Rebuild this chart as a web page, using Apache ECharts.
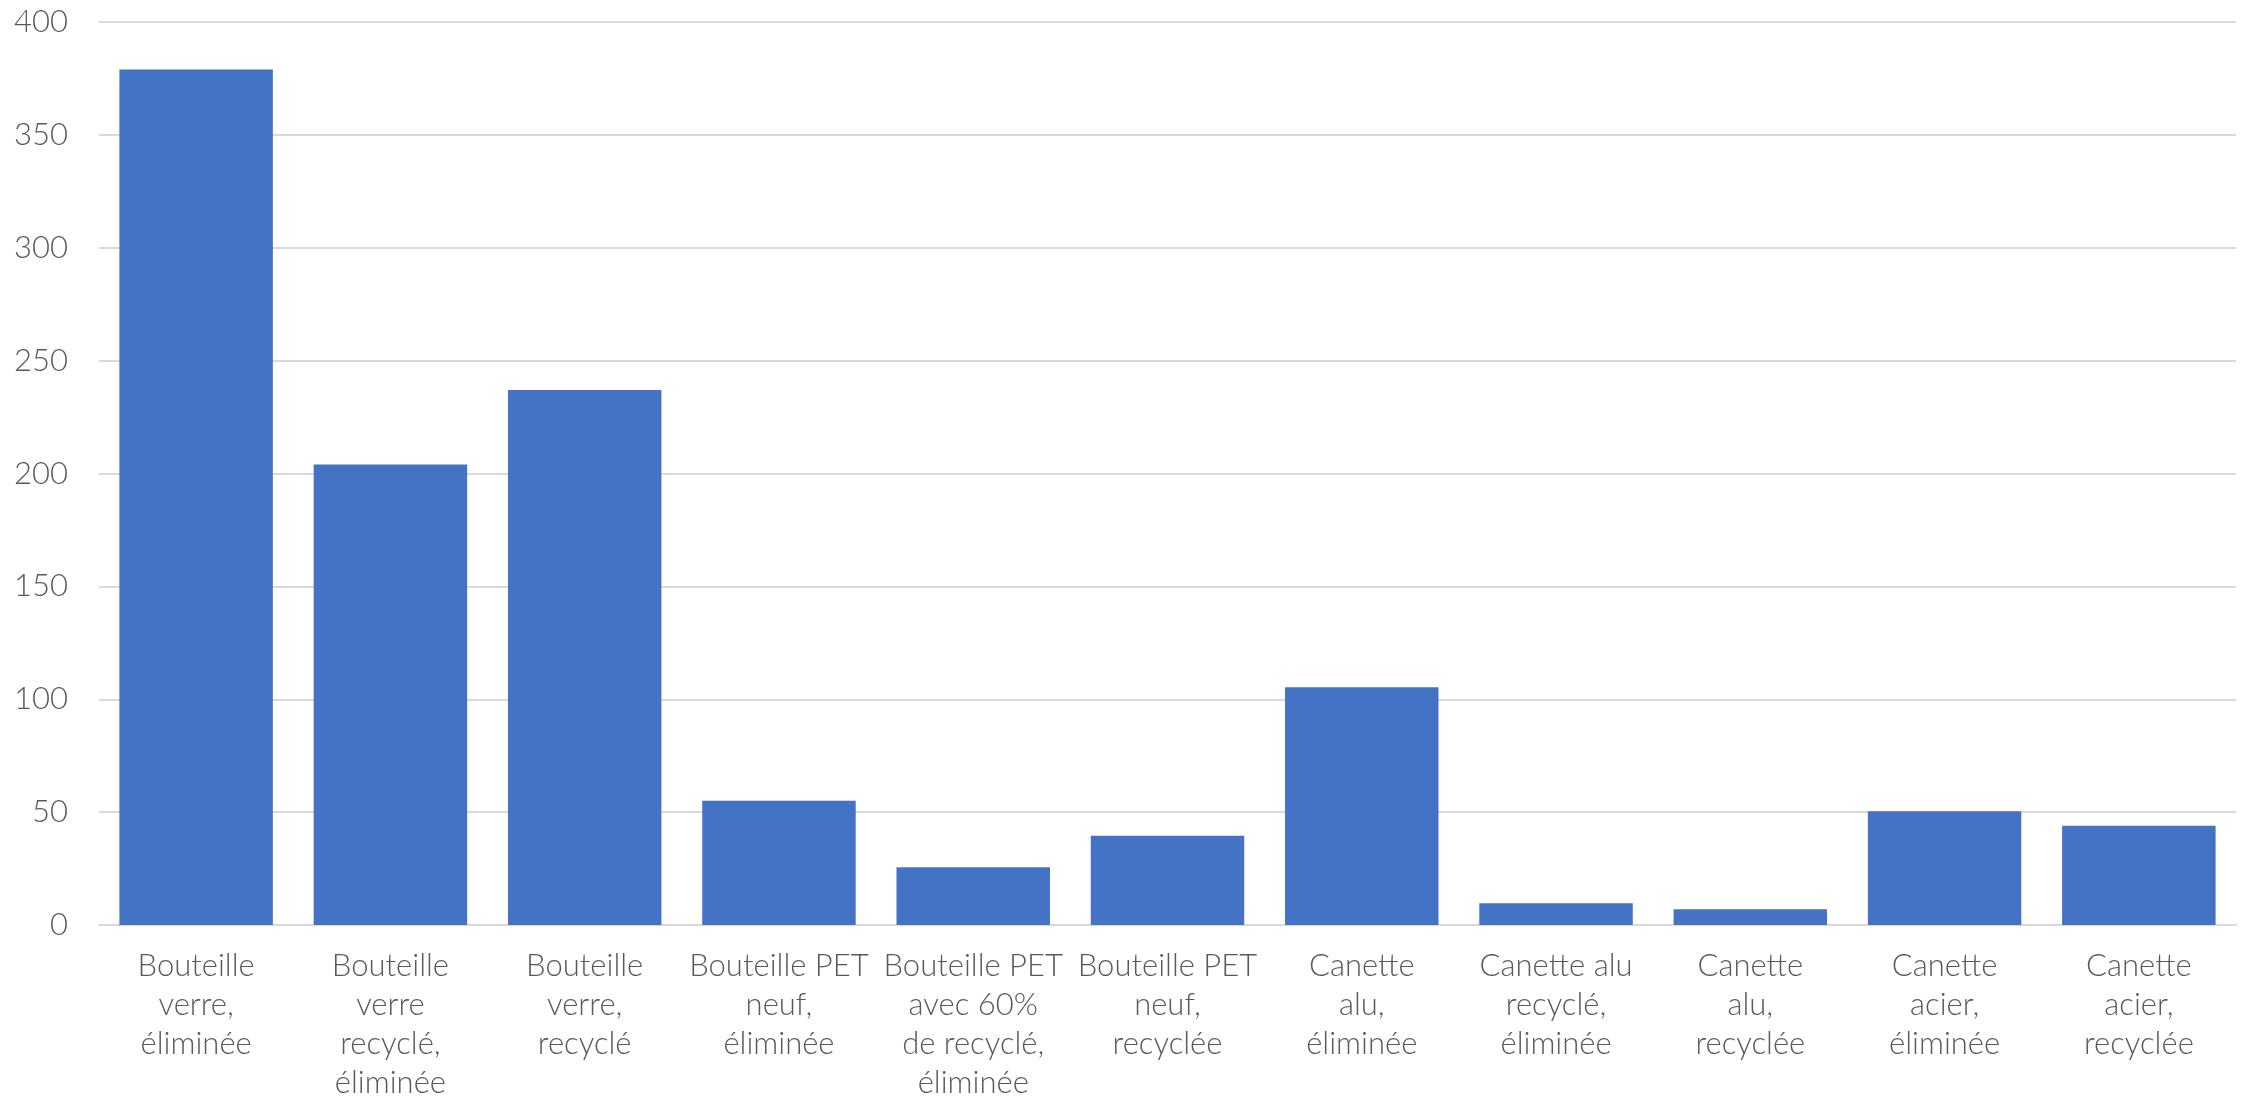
<!DOCTYPE html>
<html>
<head>
<meta charset="utf-8">
<script src="https://cdn.jsdelivr.net/npm/echarts@6/dist/echarts.min.js"></script>
<style>
html,body{margin:0;padding:0;background:#fff;}
#chart{width:2252px;height:1102px;}
</style>
</head>
<body>
<div id="chart"></div>
<script>
const categories = [
  "Bouteille\nverre,\néliminée",
  "Bouteille\nverre\nrecyclé,\néliminée",
  "Bouteille\nverre,\nrecyclé",
  "Bouteille PET\nneuf,\néliminée",
  "Bouteille PET\navec 60%\nde recyclé,\néliminée",
  "Bouteille PET\nneuf,\nrecyclée",
  "Canette\nalu,\néliminée",
  "Canette alu\nrecyclé,\néliminée",
  "Canette\nalu,\nrecyclée",
  "Canette\nacier,\néliminée",
  "Canette\nacier,\nrecyclée"
];
const values = [379, 204, 237, 55, 25.6, 39.5, 105.3, 9.6, 7, 50.4, 44];
const yTicks = { min: 0, max: 400, interval: 50 };

const chart = echarts.init(document.getElementById('chart'));
chart.setOption({
  animation: false,
  backgroundColor: '#ffffff',
  grid: { left: 99, right: 16, top: 22, bottom: 177, containLabel: false },
  xAxis: {
    type: 'category',
    data: categories,
    axisTick: { show: false },
    axisLine: { show: true, lineStyle: { color: '#d9d9d9', width: 2 } },
    axisLabel: {
      interval: 0,
      margin: 21,
      color: '#595959',
      fontFamily: 'Lato',
      fontWeight: 300,
      fontSize: 31,
      lineHeight: 39,
      align: 'center'
    }
  },
  yAxis: {
    type: 'value',
    min: yTicks.min,
    max: yTicks.max,
    interval: yTicks.interval,
    axisLine: { show: false },
    axisTick: { show: false },
    splitLine: { lineStyle: { color: '#d9d9d9', width: 2 } },
    axisLabel: {
      margin: 31,
      color: '#595959',
      fontFamily: 'Lato',
      fontWeight: 300,
      fontSize: 31
    }
  },
  series: [{
    type: 'bar',
    data: values,
    barCategoryGap: '21%',
    itemStyle: { color: '#4472C4' }
  }]
});
</script>
</body>
</html>
